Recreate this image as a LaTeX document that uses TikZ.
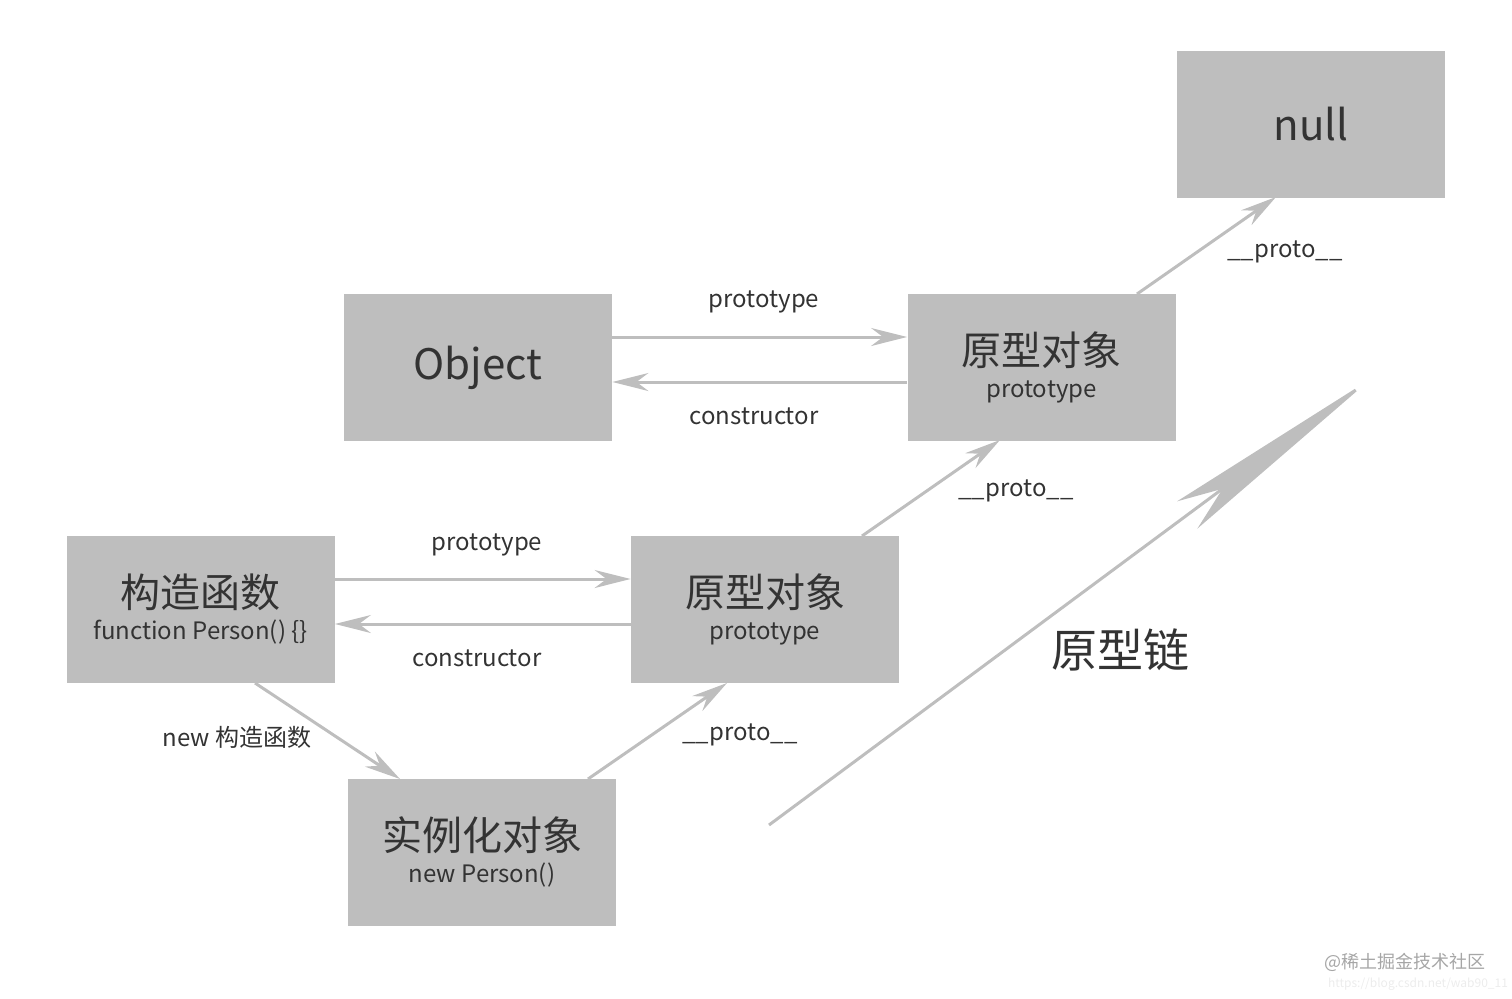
\documentclass[tikz,border=0pt]{standalone}
\usepackage{fontspec}
\setmainfont{Noto Sans CJK SC}
\usetikzlibrary{arrows.meta}
\definecolor{boxg}{HTML}{BEBEBE}
\definecolor{txt}{HTML}{333333}
\begin{document}
\begin{tikzpicture}[x=0.5pt,y=-0.5pt,
  bx/.style={fill=boxg,draw=none,inner sep=0,align=center,text=txt,minimum width=134pt,minimum height=73.5pt},
  ar/.style={draw=boxg,line width=1.5pt,-{Stealth[length=18pt,width=9pt,inset=6pt]}},
  lb/.style={text=txt,font=\fontsize{12}{14}\selectfont,inner sep=0}]
\useasboundingbox (0,0) rectangle (1512,998);
\node[bx] (null) at (1311,124) {\fontsize{21}{24}\selectfont null};
\node[bx] (obj) at (478,367.5) {\fontsize{21}{24}\selectfont Object};
\node[bx] (p1) at (1041.5,367.5) {\fontsize{20}{22}\selectfont 原型对象\\[4pt]\fontsize{12}{14}\selectfont prototype};
\node[bx] (fn) at (200.5,609.5) {\fontsize{20}{22}\selectfont 构造函数\\[4pt]\fontsize{12}{14}\selectfont function Person() \{\}};
\node[bx] (p2) at (765,609.5) {\fontsize{20}{22}\selectfont 原型对象\\[4pt]\fontsize{12}{14}\selectfont prototype};
\node[bx] (inst) at (482,852) {\fontsize{20}{22}\selectfont 实例化对象\\[4pt]\fontsize{12}{14}\selectfont new Person()};
\draw[ar] ([yshift=15.25pt]obj.east) -- ([yshift=15.25pt]p1.west);
\draw[ar] ([yshift=-7.25pt]p1.west) -- ([yshift=-7.25pt]obj.east);
\draw[ar] ([yshift=15.25pt]fn.east) -- ([yshift=15.25pt]p2.west);
\draw[ar] ([yshift=-7.25pt]p2.west) -- ([yshift=-7.25pt]fn.east);
\coordinate (a1) at (255,683); \coordinate (a2) at (400,779);
\draw[ar] (a1) -- (a2);
\coordinate (b1) at (588,779); \coordinate (b2) at (727,683);
\draw[ar] (b1) -- (b2);
\coordinate (c1) at (862,536); \coordinate (c2) at (1000,440);
\draw[ar] (c1) -- (c2);
\coordinate (d1) at (1137,294); \coordinate (d2) at (1276,197);
\draw[ar] (d1) -- (d2);
\coordinate (e1) at (769,825); \coordinate (e2) at (1372,378);
\draw[draw=boxg,line width=1.5pt,-{Stealth[length=115pt,width=17pt,inset=22pt]}] (e1) -- (e2);
\node[lb] (l1) at (764,302) {prototype};
\node[lb] (l2) at (754,416) {constructor};
\node[lb] (l3) at (487,545) {prototype};
\node[lb] (l4) at (477,658) {constructor};
\node[lb] (l5) at (237,737) {new 构造函数};
\node[lb] (l6) at (740,735) {\_\_proto\_\_};
\node[lb] (l7) at (1016,491) {\_\_proto\_\_};
\node[lb] (l8) at (1285,252) {\_\_proto\_\_};
\node[text=txt,inner sep=0,font=\fontsize{23}{26}\selectfont] (chain) at (1120,650) {原型链};
\node[text=gray!70,inner sep=0,font=\fontsize{9}{10}\selectfont] (wm) at (1405,962) {@稀土掘金技术社区};
\node[text=gray!15,inner sep=0,font=\fontsize{6}{7}\selectfont] (url) at (1418,984) {https://blog.csdn.net/wab90\_11};
\end{tikzpicture}
\end{document}
